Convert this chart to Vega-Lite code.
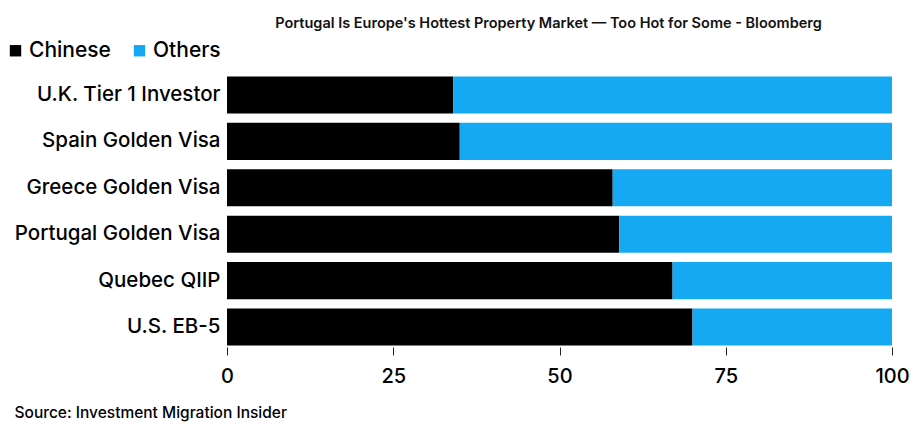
{
  "$schema": "https://vega.github.io/schema/vega-lite/v6.json",
  "width": 665,
  "height": 272,
  "autosize": {"type": "none"},
  "padding": {"left": 227, "top": 75, "right": 24, "bottom": 83},
  "background": "white",
  "config": {
    "font": "Inter",
    "view": {"stroke": null}
  },
  "title": {
    "text": "Portugal Is Europe's Hottest Property Market — Too Hot for Some - Bloomberg",
    "anchor": "middle",
    "dx": -11,
    "offset": 9,
    "fontSize": 14.5,
    "fontWeight": 600,
    "color": "#111111"
  },
  "data": {
    "values": [
      {"program": "U.K. Tier 1 Investor", "group": "Chinese", "value": 34},
      {"program": "U.K. Tier 1 Investor", "group": "Others", "value": 66},
      {"program": "Spain Golden Visa", "group": "Chinese", "value": 35},
      {"program": "Spain Golden Visa", "group": "Others", "value": 65},
      {"program": "Greece Golden Visa", "group": "Chinese", "value": 58},
      {"program": "Greece Golden Visa", "group": "Others", "value": 42},
      {"program": "Portugal Golden Visa", "group": "Chinese", "value": 59},
      {"program": "Portugal Golden Visa", "group": "Others", "value": 41},
      {"program": "Quebec QIIP", "group": "Chinese", "value": 67},
      {"program": "Quebec QIIP", "group": "Others", "value": 33},
      {"program": "U.S. EB-5", "group": "Chinese", "value": 70},
      {"program": "U.S. EB-5", "group": "Others", "value": 30}
    ]
  },
  "mark": {"type": "bar"},
  "encoding": {
    "y": {
      "field": "program",
      "type": "nominal",
      "sort": ["U.K. Tier 1 Investor", "Spain Golden Visa", "Greece Golden Visa", "Portugal Golden Visa", "Quebec QIIP", "U.S. EB-5"],
      "scale": {"paddingInner": 0.2, "paddingOuter": 0.03},
      "axis": {
        "title": null,
        "ticks": false,
        "domain": false,
        "labelFontSize": 20.5,
        "labelFontWeight": 500,
        "labelColor": "#000000",
        "labelPadding": 7,
        "labelLimit": 240
      }
    },
    "x": {
      "field": "value",
      "type": "quantitative",
      "stack": "zero",
      "scale": {"domain": [0, 100], "nice": false},
      "axis": {
        "values": [0, 25, 50, 75, 100],
        "grid": false,
        "domain": false,
        "ticks": true,
        "tickSize": 8,
        "tickColor": "#222222",
        "tickWidth": 1,
        "labelFontSize": 20,
        "labelFontWeight": 500,
        "labelColor": "#000000",
        "labelPadding": 11,
        "labelFlush": false,
        "title": "Source: Investment Migration Insider",
        "titleAnchor": "start",
        "titleX": -213,
        "titleY": 58,
        "titleFontSize": 15.5,
        "titleFontWeight": 500,
        "titleColor": "#000000",
        "titleAlign": "left"
      }
    },
    "color": {
      "field": "group",
      "type": "nominal",
      "scale": {"domain": ["Chinese", "Others"], "range": ["#000000", "#14a9f2"]},
      "legend": {
        "title": null,
        "orient": "none",
        "direction": "horizontal",
        "legendX": -222,
        "legendY": -35,
        "symbolType": "square",
        "symbolSize": 130,
        "symbolStrokeWidth": 0,
        "symbolOpacity": 1,
        "labelFontSize": 21,
        "labelFontWeight": 500,
        "labelColor": "#000000",
        "columnPadding": 18,
        "labelOffset": 3
      }
    }
  }
}
